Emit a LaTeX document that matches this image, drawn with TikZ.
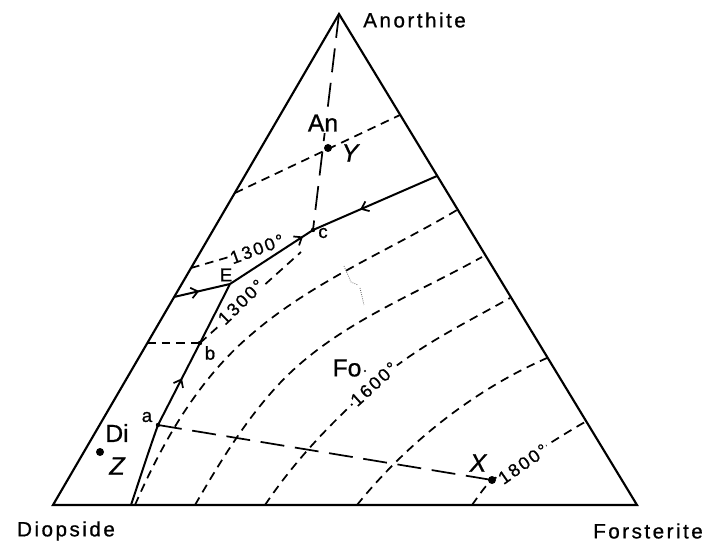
\documentclass[tikz,border=0pt]{standalone}
\usepackage{fontspec}
\setmainfont{Liberation Sans}
\newfontfamily\widefont[LetterSpace=12,FakeBold=0.8]{Liberation Sans}
\newfontfamily\markfont[FakeBold=0.8]{Liberation Sans}
\usetikzlibrary{arrows.meta,decorations.markings}

\tikzset{
  edge/.style={line width=1.6pt,line join=miter},
  boundary/.style={line width=1.5pt},
  isotherm/.style={line width=1.3pt,dash pattern=on 6.5pt off 4.5pt},
  joinline/.style={line width=1.3pt,dash pattern=on 18pt off 8pt},
  flowarrow/.style={postaction={decorate},decoration={markings,
      mark=at position #1 with {\arrow{Straight Barb[length=5pt,width=8pt,line width=1.3pt]}}}},
  corner/.style={inner sep=0.75pt,font=\widefont\fontsize{15.5}{18}\selectfont},
  phase/.style={inner sep=1pt,fill=white,font=\markfont\fontsize{18.5}{20}\selectfont},
  pointlbl/.style={inner sep=0.75pt,font=\markfont\fontsize{14}{16}\selectfont},
  templbl/.style={inner sep=1pt,fill=white,font=\widefont\fontsize{13.5}{15}\selectfont},
  mixlbl/.style={inner sep=0.75pt,font=\markfont\itshape\fontsize{19}{20}\selectfont}
}

\begin{document}
\begin{tikzpicture}[x=0.75pt,y=0.75pt,yscale=-1,xscale=1]
\path[use as bounding box] (0,0) rectangle (703,541);

% corners and points
\coordinate (A) at (339,14);
\coordinate (D) at (53,505);
\coordinate (F) at (637,505);
\coordinate (An) at (328,148);
\coordinate (c) at (313,230);
\coordinate (E) at (230,284);
\coordinate (b) at (200,343);
\coordinate (a) at (158,425);
\coordinate (xpt) at (492,480);
\coordinate (dipt) at (100,452);
\coordinate (p0) at (131,505);
\coordinate (L) at (174,297);
\coordinate (R) at (437,176);

%Isotherms
\draw [isotherm] (235,193) -- (400,115) ;
\draw [isotherm] (191,268) -- (229,257) ;
\draw [isotherm] (147,343) -- (b) ;
\draw [isotherm] (b) -- (301,252) ;
\draw [isotherm] (135,505) .. controls (163,441) and (199,378) .. (253,333) .. controls (314,281) and (388,251) .. (457,210) ;
\draw [isotherm] (195,505) .. controls (220,462) and (246,419) .. (280,383) .. controls (335,325) and (412,296) .. (482,257) ;
\draw [isotherm] (265,505) .. controls (296,459) and (332,422) .. (373,385) .. controls (414,348) and (462,325) .. (510,298) ;
\draw [isotherm] (357,505) .. controls (407,443) and (474,390) .. (547,358) ;
\draw [isotherm] (472,505) .. controls (480,494) and (485,486) .. (xpt) .. controls (520,463) and (555,439) .. (585,422) ;
% Text Node
\draw (257,249) node [templbl,rotate=20] (t1300a) {1300°};
\draw (241,302) node [templbl,rotate=44] (t1300b) {1300°};
\draw (374,384) node [templbl,rotate=42] (t1600) {1600°};
\draw (523,464) node [templbl,rotate=35] (t1800) {1800°};

%Joins
\draw [joinline] (A) -- (c) ;
\draw [joinline] (a) -- (xpt) ;

%Faint mark
\draw [densely dotted,line width=0.6pt,black!60] (344,266) -- (351,282) -- (358,285) ;
\draw [densely dotted,line width=0.6pt,black!60] (360,288) -- (364,305) ;

%Boundary curves
\draw [boundary] (p0) .. controls (140,478) and (149,450) .. (a) ;
\draw [boundary,flowarrow=0.57] (a) -- (b) ;
\draw [boundary] (b) -- (E) ;
\draw [boundary,flowarrow=0.45] (L) -- (E) ;
\draw [boundary,flowarrow=0.88] (E) -- (c) ;
\draw [boundary,flowarrow=0.62] (R) -- (c) ;

%Triangle
\draw [edge] (A) -- (F) -- (D) -- cycle ;

%Dots
\fill (An) circle (4) ;
\fill (dipt) circle (4) ;
\fill (xpt) circle (4) ;
\fill (a) circle (2.2) ;
\fill (b) circle (2.2) ;
\fill (c) circle (2.2) ;
\fill (365,371) circle (1.2) ;

% Text Node
\draw (362,20) node [corner,anchor=west] (tAnor) {Anorthite};
% Text Node
\draw (66,531) node [corner] (tDiop) {Diopside};
% Text Node
\draw (648,531) node [corner] (tFors) {Forsterite};
% Text Node
\draw (323,123) node [phase] (tAn) {An};
\draw (117,433) node [phase,fill=none] (tDi) {Di};
\draw (347,368) node [phase,fill=none] (tFo) {Fo};
% Text Node
\draw (147,417) node [pointlbl] (ta) {a};
\draw (210,353) node [pointlbl] (tb) {b};
\draw (323,233) node [pointlbl] (tc) {c};
\draw (226,275) node [pointlbl] (tE) {E};
% Text Node
\draw (350,153) node [mixlbl] (tY) {Y};
\draw (478,463) node [mixlbl] (tX) {X};
\draw (117,466) node [mixlbl] (tZ) {Z};

\end{tikzpicture}
\end{document}
